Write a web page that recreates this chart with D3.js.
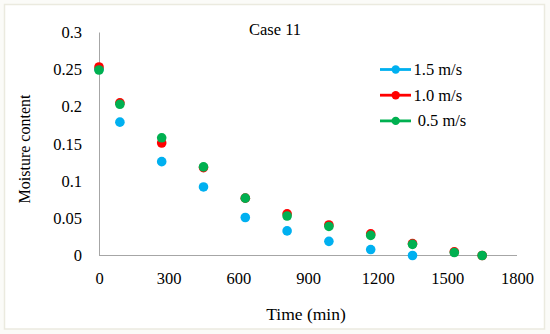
<!DOCTYPE html>
<html>
<head>
<meta charset="utf-8">
<script src="https://cdn.jsdelivr.net/npm/d3@7"></script>
<style>
  body { margin: 0; background: #fbfbf8; }
  svg text { font-family: "Palatino Linotype", "Book Antiqua", Palatino, "Liberation Serif", serif; fill: #000; }
</style>
</head>
<body>
<script>
// data
var tiempos = [0, 90, 270, 450, 630, 810, 990, 1170, 1350, 1530, 1650];
var serie15 = [0.250, 0.179, 0.126, 0.092, 0.051, 0.033, 0.019, 0.008, 0.000];
var serie10 = [0.253, 0.205, 0.151, 0.118, 0.077, 0.056, 0.041, 0.029, 0.016, 0.005, 0.000];
var serie05 = [0.249, 0.203, 0.158, 0.119, 0.077, 0.053, 0.039, 0.027, 0.015, 0.004, 0.000];
var nombres = ["1.5 m/s", "1.0 m/s", " 0.5 m/s"];
var colores = ["#00b0f0", "#ff0000", "#00b050"];
var ticksX = [0, 300, 600, 900, 1200, 1500, 1800];
var ticksY = [0, 0.05, 0.1, 0.15, 0.2, 0.25, 0.3];

var svgW = 550, svgH = 334;
var x0 = 99, x1 = 517, y0 = 255.5, y1 = 32;

var svg = d3.select("body").append("svg")
    .attr("width", svgW)
    .attr("height", svgH);

svg.append("rect")
    .attr("x", 4.5).attr("y", 4.5)
    .attr("width", 540).attr("height", 324.5)
    .attr("fill", "#fff")
    .attr("stroke", "#ebeadf")
    .attr("stroke-width", 1.5);

var xScale = d3.scaleLinear().domain([0, 1800]).range([x0, x1]);
var yScale = d3.scaleLinear().domain([0, 0.3]).range([y0, y1]);

var xAxis = d3.axisBottom(xScale).tickValues(ticksX).tickSize(0).tickPadding(17)
    .tickFormat(d3.format("d"));
var yAxis = d3.axisLeft(yScale).tickValues(ticksY).tickSize(0).tickPadding(17)
    .tickFormat(function(d) { return d3.format("")(+d.toFixed(2)); });

var gx = svg.append("g").attr("transform", "translate(0," + y0 + ")").call(xAxis);
var gy = svg.append("g").attr("transform", "translate(" + x0 + ",0)").call(yAxis);

[gx, gy].forEach(function(g) {
    g.select(".domain").attr("stroke", "#a6a6a6").attr("stroke-width", 1);
    g.selectAll("text").attr("font-size", 16.5);
});
gx.select(".domain").attr("d", "M" + x0 + ",0H" + x1);

svg.append("text")
    .attr("x", 275).attr("y", 35)
    .attr("text-anchor", "middle")
    .attr("font-size", 16.5)
    .text("Case 11");

svg.append("text")
    .attr("x", 306).attr("y", 320)
    .attr("text-anchor", "middle")
    .attr("font-size", 17.5)
    .text("Time (min)");

svg.append("text")
    .attr("transform", "translate(29.5,149) rotate(-90)")
    .attr("text-anchor", "middle")
    .attr("font-size", 16)
    .text("Moisture content");

var series = [serie15, serie10, serie05];
// dibujo en orden: azul, rojo, verde (verde arriba)
series.forEach(function(s, i) {
    svg.append("g").selectAll("circle")
        .data(s)
        .enter()
        .append("circle")
        .attr("cx", function(d, j) { return xScale(tiempos[j]); })
        .attr("cy", function(d) { return yScale(d); })
        .attr("r", 4.8)
        .attr("fill", colores[i]);
});

var leyenda = svg.append("g");
nombres.forEach(function(n, i) {
    var yy = 69.5 + i * 25.7;
    leyenda.append("line")
        .attr("x1", 380).attr("x2", 411)
        .attr("y1", yy).attr("y2", yy)
        .attr("stroke", colores[i])
        .attr("stroke-width", 2.8);
    leyenda.append("circle")
        .attr("cx", 395.7).attr("cy", yy)
        .attr("r", 4.2)
        .attr("fill", colores[i]);
    leyenda.append("text")
        .attr("x", 413.5).attr("y", yy + 5.5)
        .attr("font-size", 16.5)
        .attr("xml:space", "preserve")
        .style("white-space", "pre")
        .text(n);
});
</script>
</body>
</html>
